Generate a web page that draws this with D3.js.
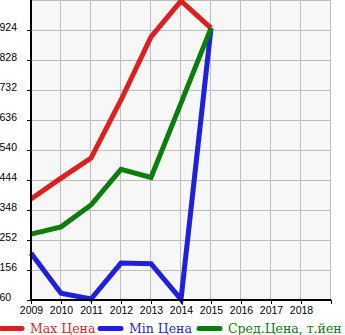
<!DOCTYPE html>
<html>
<head>
<meta charset="utf-8">
<script src="https://cdn.jsdelivr.net/npm/d3@7"></script>
<style>
  html, body { margin: 0; padding: 0; background: #fff; }
  svg { display: block; }
</style>
</head>
<body>
<svg id="chart" width="345" height="335"></svg>
<script>
const years = [2009, 2010, 2011, 2012, 2013, 2014, 2015];
const maxPrice = [383, 450, 514, 700, 902, 1017, 930];
const minPrice = [210, 82, 63, 178, 176, 62, 930];
const avgPrice = [271, 294, 364, 478, 452, 690, 930];
const yTicks = [60, 156, 252, 348, 444, 540, 636, 732, 828, 924];
const xTicks = [2009, 2010, 2011, 2012, 2013, 2014, 2015, 2016, 2017, 2018];
const seriesNames = ["Max Цена", "Min Цена", "Сред.Цена, т.йен"];
const seriesColors = ["#dd1f1f", "#1f1fdd", "#0a7d0a"];

(function () {
  const svg = d3.select("#chart");
  const plotLeft = 31, plotRight = 331, plotTop = 0, plotBottom = 300;
  const tickFont = "Liberation Sans, Arial, sans-serif";

  const x = d3.scaleLinear().domain([2009, 2019]).range([plotLeft, plotRight]);
  const y = d3.scaleLinear().domain([60, 1020]).range([plotBottom, plotTop]);

  // plot background
  svg.append("rect")
    .attr("x", plotLeft).attr("y", plotTop)
    .attr("width", plotRight - plotLeft).attr("height", plotBottom - plotTop)
    .attr("fill", "#f7f7f7");

  // grid
  const grid = svg.append("g").attr("stroke", "#bdbdbd").attr("stroke-width", 1);
  grid.selectAll("line.v").data(d3.range(2010, 2020)).join("line")
    .attr("class", "v")
    .attr("x1", d => x(d) - 0.5).attr("x2", d => x(d) - 0.5)
    .attr("y1", plotTop).attr("y2", plotBottom);
  grid.selectAll("line.h").data(yTicks.slice(1).concat([1020])).join("line")
    .attr("class", "h")
    .attr("x1", plotLeft).attr("x2", plotRight)
    .attr("y1", d => Math.max(y(d), 0) + 0.5)
    .attr("y2", d => Math.max(y(d), 0) + 0.5);

  // series lines
  const line = d3.line().x((d, i) => x(years[i])).y(d => y(d));
  [maxPrice, minPrice, avgPrice].forEach((s, k) => {
    svg.append("path")
      .datum(s)
      .attr("d", line)
      .attr("fill", "none")
      .attr("stroke", seriesColors[k])
      .attr("stroke-width", 5)
      .attr("stroke-linejoin", "miter")
      .attr("stroke-linecap", "butt");
  });

  // y axis: labels sit left-aligned at the page edge, baseline on the tick
  const yAxis = d3.axisLeft(y).tickValues(yTicks).tickSize(4).tickFormat(d3.format("d"));
  const gy = svg.append("g").attr("transform", `translate(${plotLeft},0)`).call(yAxis);
  gy.select(".domain").remove();
  gy.selectAll(".tick line").attr("stroke", "#000");
  gy.selectAll(".tick text")
    .attr("x", -plotLeft - 0.5).attr("dy", 0)
    .attr("text-anchor", "start")
    .attr("font-family", tickFont).attr("font-size", 10.5)
    .attr("fill", "#000");

  const xAxis = d3.axisBottom(x).tickValues(xTicks.concat([2019])).tickSize(4)
    .tickFormat(d => d === 2019 ? "" : d);
  const gx = svg.append("g").attr("transform", `translate(0,${plotBottom})`).call(xAxis);
  gx.select(".domain").remove();
  gx.selectAll(".tick line").attr("stroke", "#000");
  gx.selectAll(".tick text")
    .attr("y", 7)
    .attr("font-family", tickFont).attr("font-size", 10.5)
    .attr("fill", "#000");

  // axis lines
  svg.append("line").attr("x1", plotLeft).attr("x2", plotLeft).attr("y1", 0).attr("y2", plotBottom + 1)
    .attr("stroke", "#000").attr("stroke-width", 2);
  svg.append("line").attr("x1", plotLeft - 1).attr("x2", plotRight).attr("y1", plotBottom).attr("y2", plotBottom)
    .attr("stroke", "#000").attr("stroke-width", 2);

  // legend
  const legendX = [0, 99, 198];
  const lg = svg.append("g");
  seriesNames.forEach((name, k) => {
    lg.append("line")
      .attr("x1", legendX[k] + 1).attr("x2", legendX[k] + 22)
      .attr("y1", 328.5).attr("y2", 328.5)
      .attr("stroke", seriesColors[k]).attr("stroke-width", 5)
      .attr("stroke-linecap", "round");
    lg.append("text")
      .attr("x", legendX[k] + 30).attr("y", 333)
      .attr("font-family", "DejaVu Serif, serif").attr("font-size", 12.5)
      .attr("fill", seriesColors[k])
      .text(name);
  });
})();
</script>
</body>
</html>
